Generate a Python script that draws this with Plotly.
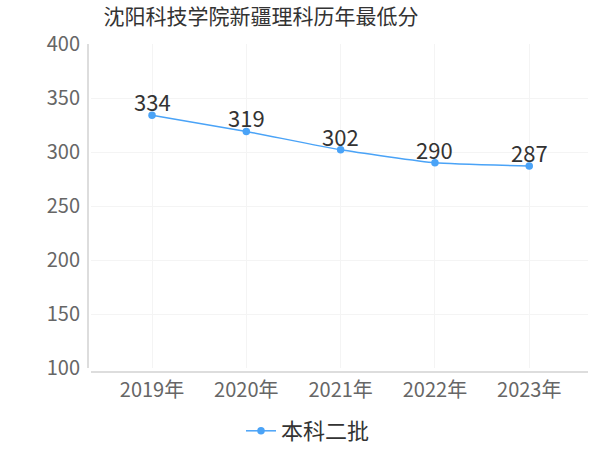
import plotly.graph_objects as go

years = ["2019年", "2020年", "2021年", "2022年", "2023年"]
scores = [334, 319, 302, 290, 287]
series_name = "本科二批"
title = "沈阳科技学院新疆理科历年最低分"
y_ticks = [100, 150, 200, 250, 300, 350, 400]

FONT = "Noto Sans CJK SC, Noto Sans, sans-serif"
xs = list(range(len(years)))
fig = go.Figure()
fig.add_trace(go.Scatter(
    x=xs, y=scores, name=series_name,
    mode="lines+markers",
    line=dict(color="#4aa3f7", width=1.5, shape="spline", smoothing=0.4),
    marker=dict(color="#4aa3f7", size=7.5),
))
for xv, yv in zip(xs, scores):
    fig.add_annotation(x=xv, y=yv, text=str(yv), showarrow=False, yshift=14,
                       font=dict(size=22, color="#333333", family=FONT))
W, H = 600, 450
L, R, T, B = 91, 12, 44, 82
ph = H - T - B
fig.update_layout(
    width=W, height=H, margin=dict(l=L, r=R, t=T, b=B, autoexpand=False),
    paper_bgcolor="white", plot_bgcolor="white",
    font=dict(family=FONT, color="#666666"),
    title=dict(text=title, x=261/W, xanchor="center", y=1-17/H, yanchor="middle",
               font=dict(size=21, color="#333333", family=FONT)),
    showlegend=True,
    legend=dict(orientation="h", xref="container", yref="container", x=308/W, xanchor="center",
                y=1-431/H, yanchor="middle", itemwidth=30,
                font=dict(size=22, color="#333333", family=FONT)),
    xaxis=dict(tickmode="array", tickvals=xs, ticktext=years,
               range=[-0.647, 4.623], showgrid=True, gridcolor="#f4f4f4", zeroline=False,
               showline=False, ticks="", tickfont=dict(size=20, color="#666666"),
               ticklabelstandoff=8, automargin=False),
    yaxis=dict(range=[100, 400], tickvals=y_ticks, showgrid=True, gridcolor="#f4f4f4",
               zeroline=False, showline=False, ticks="", tickfont=dict(size=20, color="#666666"),
               ticklabelstandoff=10, automargin=False),
    shapes=[
        dict(type="line", xref="paper", yref="paper", x0=-3/497, x1=-3/497, y0=0, y1=1,
             line=dict(color="#bbbbbb", width=1)),
        dict(type="line", xref="paper", yref="paper", x0=0, x1=1, y0=-4/ph, y1=-4/ph,
             line=dict(color="#bbbbbb", width=1)),
    ],
)
fig.write_html("out.html", config={"displayModeBar": False},
               post_script="document.body.style.margin='0';document.body.style.overflow='hidden';")
